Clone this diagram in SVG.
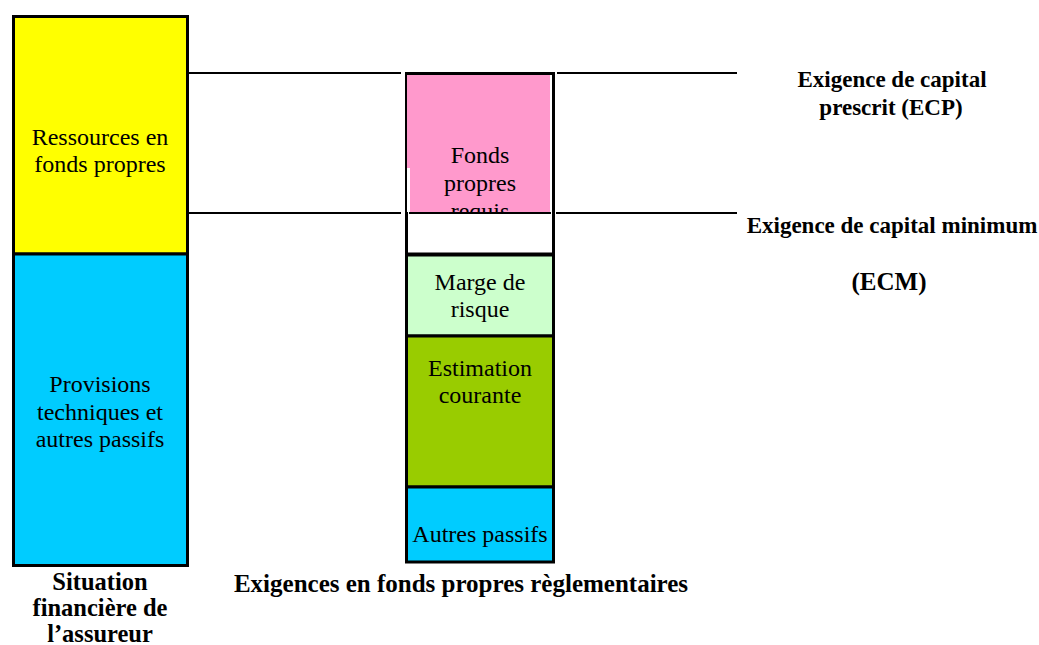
<svg xmlns="http://www.w3.org/2000/svg" width="1039" height="645" viewBox="0 0 1039 645">
  <style>
    .t { font-family: "Liberation Serif", "Times New Roman", serif; fill: #000; text-anchor: middle; }
    .r { font-size: 24px; }
    .b { font-weight: bold; font-size: 23px; }
    .bb { font-weight: bold; font-size: 24.5px; }
    .box { stroke: #000; stroke-width: 3; }
    .ln { stroke: #000; stroke-width: 2; fill: none; }
  </style>
  <defs>
    <clipPath id="pinkClip">
      <rect x="407" y="75" width="143" height="137"/>
    </clipPath>
  </defs>
  <rect x="0" y="0" width="1039" height="645" fill="#fff"/>

  <g id="connectors">
    <line class="ln" x1="189" y1="73" x2="401" y2="73"/>
    <line class="ln" x1="557" y1="73" x2="737" y2="73"/>
    <line class="ln" x1="189" y1="213" x2="401" y2="213"/>
    <line class="ln" x1="556" y1="213" x2="737" y2="213"/>
  </g>

  <g id="ressources">
    <rect class="box" x="13.5" y="16.5" width="174" height="237.5" fill="#FFFF00"/>
    <text class="t r" x="100" y="145">Ressources en</text>
    <text class="t r" x="100" y="172">fonds propres</text>
  </g>

  <g id="provisions">
    <rect class="box" x="13.5" y="254" width="174" height="311.5" fill="#00CCFF"/>
    <text class="t r" x="100" y="392">Provisions</text>
    <text class="t r" x="100" y="420">techniques et</text>
    <text class="t r" x="100" y="447">autres passifs</text>
  </g>

  <g id="situation-label">
    <text class="t bb" x="100" y="590">Situation</text>
    <text class="t bb" x="100" y="616">financière de</text>
    <text class="t bb" x="100" y="642">l’assureur</text>
  </g>

  <g id="fonds-requis">
    <rect class="box" x="406.5" y="73.5" width="147" height="180.5" fill="#fff"/>
    <rect x="407" y="75" width="143" height="137" fill="#FF99CC"/>
    <rect x="407" y="168" width="3" height="44" fill="#fff"/>
    <g clip-path="url(#pinkClip)">
      <text class="t r" x="480" y="163">Fonds</text>
      <text class="t r" x="480" y="191">propres</text>
      <text class="t r" x="480" y="219">requis</text>
    </g>
    <line class="ln" x1="409" y1="213" x2="551" y2="213"/>
  </g>

  <g id="marge-risque">
    <rect class="box" x="406.5" y="255" width="147" height="81" fill="#CCFFCC"/>
    <text class="t r" x="480" y="290">Marge de</text>
    <text class="t r" x="480" y="317">risque</text>
  </g>

  <g id="estimation-courante">
    <rect class="box" x="406.5" y="336" width="147" height="151" fill="#99CC00"/>
    <text class="t r" x="480" y="376">Estimation</text>
    <text class="t r" x="480" y="403">courante</text>
  </g>

  <g id="autres-passifs">
    <rect class="box" x="406.5" y="487" width="147" height="75" fill="#00CCFF"/>
    <text class="t r" x="480" y="542">Autres passifs</text>
  </g>

  <g id="exigences-label">
    <text class="t b" x="461" y="592" style="font-size:25px">Exigences en fonds propres règlementaires</text>
  </g>

  <g id="ecp-label">
    <text class="t b" x="892" y="87">Exigence de capital</text>
    <text class="t b" x="891" y="115">prescrit (ECP)</text>
  </g>

  <g id="ecm-label">
    <text class="t b" x="892" y="233">Exigence de capital minimum</text>
    <text class="t b" x="889" y="290" style="font-size:25px">(ECM)</text>
  </g>
</svg>
